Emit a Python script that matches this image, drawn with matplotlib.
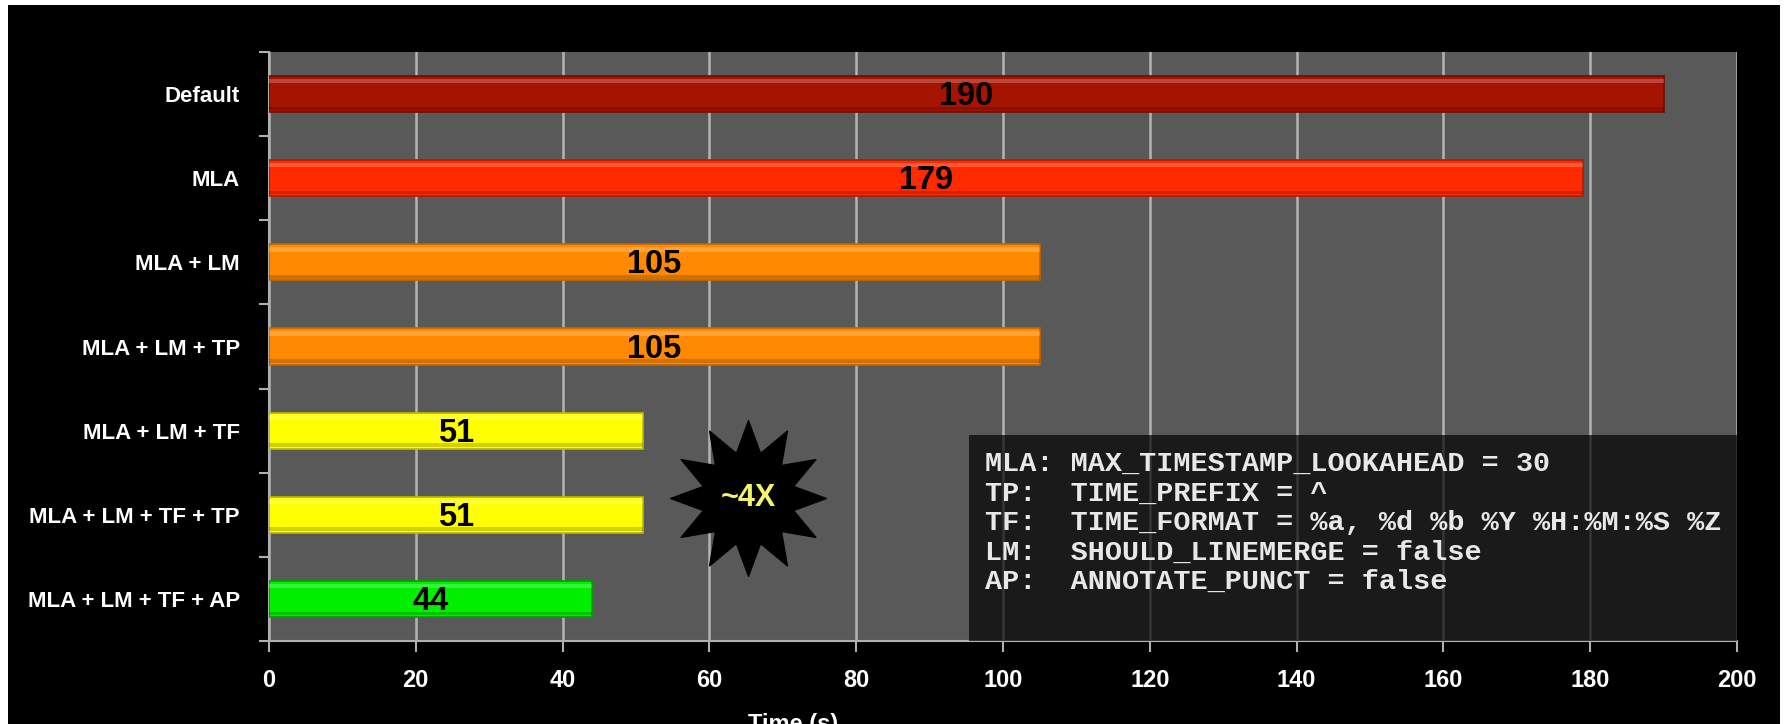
import numpy as np
from matplotlib import pyplot as plt
from matplotlib import font_manager
from matplotlib.patches import Rectangle
from matplotlib.path import Path

# Datos
labels = ['Default', 'MLA', 'MLA + LM', 'MLA + LM + TP', 'MLA + LM + TF',
          'MLA + LM + TF + TP', 'MLA + LM + TF + AP']
times = [190, 179, 105, 105, 51, 51, 44]
colors = ['#a51400', '#ff2a00', '#ff8a00', '#ff8a00', '#ffff00', '#ffff00', '#00f000']
edges = ['#6e0d00', '#b01c00', '#c06400', '#c06400', '#b8b800', '#b8b800', '#00a000']
x_ticks = [0, 20, 40, 60, 80, 100, 120, 140, 160, 180, 200]

legend_lines = ['MLA: MAX_TIMESTAMP_LOOKAHEAD = 30',
                'TP:  TIME_PREFIX = ^',
                'TF:  TIME_FORMAT = %a, %d %b %Y %H:%M:%S %Z',
                'LM:  SHOULD_LINEMERGE = false',
                'AP:  ANNOTATE_PUNCT = false']
star_x, star_y, star_text = 65.3, 4.8, '~4X'

# Fuentes
names = {f.name for f in font_manager.fontManager.ttflist}
sans = 'Liberation Sans Narrow' if 'Liberation Sans Narrow' in names else 'Liberation Sans'
mono = 'Liberation Mono' if 'Liberation Mono' in names else 'DejaVu Sans Mono'

W, H = 1785, 724
fig = plt.figure(figsize=(W / 100, H / 100), dpi=100, facecolor='white')
# fondo negro con borde blanco fino
fig.patches.append(Rectangle((8 / W, 0), (1780 - 8) / W, (H - 5) / H,
                             transform=fig.transFigure, facecolor='black',
                             edgecolor='none', zorder=-10))

ax = fig.add_axes([269 / W, 83 / H, (1737 - 269) / W, (641 - 52) / H])
ax.set_facecolor('#595959')

y = np.arange(len(labels))
h = 0.43
ax.barh(y, times, height=h, color=colors, edgecolor=edges, linewidth=1.2, zorder=3)
# brillo superior y sombra inferior (efecto 3D)
ax.barh(y - h * 0.36, times, height=h * 0.12, color='white', alpha=0.22,
        linewidth=0, zorder=4)
ax.barh(y + h * 0.40, times, height=h * 0.10, color='black', alpha=0.18,
        linewidth=0, zorder=4)

for yi, t in zip(y, times):
    ax.text(t / 2, yi + 0.03, str(t), ha='center', va='center', fontsize=23.5,
            fontweight='bold', color='black', family=sans, zorder=5)

ax.set_xlim(0, 200)
ax.set_ylim(len(labels) - 0.5, -0.5)
ax.set_xticks(x_ticks)
ax.set_yticks(y)
ax.set_yticklabels(labels)
ax.set_yticks(np.arange(len(labels) + 1) - 0.5, minor=True)
ax.tick_params(axis='y', which='major', length=0, pad=21, labelcolor='white',
               labelsize=16)
ax.tick_params(axis='y', which='minor', length=7, width=1.5, color='#b0b0b0')
ax.tick_params(axis='x', length=8, width=1.5, color='#b0b0b0', pad=12,
               labelcolor='white', labelsize=17)
for lab in ax.get_yticklabels() + ax.get_xticklabels():
    lab.set_fontweight('bold')
    lab.set_family(sans)

ax.grid(axis='x', color='#b4b4b4', linewidth=1.8, zorder=1)
ax.set_axisbelow(True)
for s in ['top', 'right']:
    ax.spines[s].set_visible(False)
for s in ['left', 'bottom']:
    ax.spines[s].set_color('#b0b0b0')
    ax.spines[s].set_linewidth(1.5)

# estrella "~4X"
star = Path.unit_regular_star(12, 0.6)
ax.scatter([star_x], [star_y], s=112 ** 2, marker=star, color='black',
           zorder=6, clip_on=False)
ax.text(star_x, star_y, star_text, ha='center', va='center', fontsize=22,
        fontweight='bold', color='#f4f46a', family=sans, zorder=7)

# caja de leyenda
ax.add_patch(Rectangle((0.477, 0), 0.523, 0.35, transform=ax.transAxes,
                       facecolor='black', alpha=0.7, edgecolor='none', zorder=6))
for i, line in enumerate(legend_lines):
    ax.text(0.488, 0.30 - i * 0.05, line, transform=ax.transAxes,
            ha='left', va='center', fontsize=20.5, fontweight='bold',
            color='#e8e8e8', family=mono, zorder=7)

fig.text(793 / W, (H - 713) / H, 'Time (s)', ha='center', va='top',
         fontsize=17, fontweight='bold', color='white', family=sans)

plt.savefig('out.png', dpi=100, facecolor=fig.get_facecolor())
